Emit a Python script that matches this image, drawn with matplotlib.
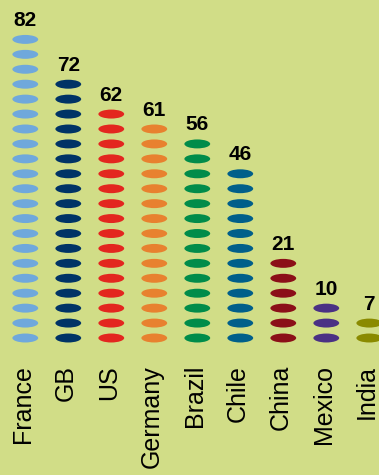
import matplotlib
matplotlib.use("Agg")
import matplotlib.pyplot as plt
from matplotlib.patches import Ellipse

countries = ["France", "GB", "US", "Germany", "Brazil", "Chile", "China", "Mexico", "India"]
values = [82, 72, 62, 61, 56, 46, 21, 10, 7]
icon_counts = [21, 18, 16, 15, 14, 12, 6, 3, 2]
colors = ["#6fa8dc", "#003366", "#e3261f", "#e8812f", "#008c4a",
          "#005f8a", "#8b0f18", "#4a3184", "#8a8a00"]
bg = "#d1dd87"

fig = plt.figure(figsize=(3.79, 4.75), dpi=100, facecolor=bg)
ax = fig.add_axes([0, 0, 1, 1])
ax.set_facecolor(bg)
ax.set_xlim(-0.588, 8.226)
ax.set_ylim(-9.176, 22.64)
ax.axis("off")

for i, (name, val, n, col) in enumerate(zip(countries, values, icon_counts, colors)):
    for j in range(n):
        ax.add_patch(Ellipse((i, j), 0.6, 0.6, facecolor=col, edgecolor="none"))
    ax.text(i, n - 1 + 1.27, str(val), ha="center", va="center",
            fontsize=15, fontweight="bold", family="Liberation Sans")
    ax.text(i - 0.05, -1.8, name, rotation=90, ha="center", va="top",
            fontsize=18, family="Liberation Sans")

fig.savefig("out.png", dpi=100, facecolor=bg)
